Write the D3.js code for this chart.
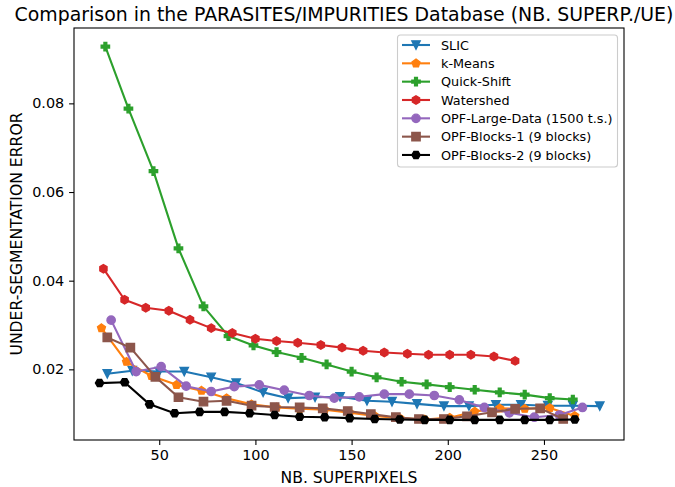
<!DOCTYPE html>
<html>
<head>
<meta charset="utf-8">
<script src="https://cdn.jsdelivr.net/npm/d3@7"></script>
<style>
    body { margin: 0; background: #fff; }
    text { font-family: "DejaVu Sans", sans-serif; fill: #000; }
</style>
</head>
<body>
<div id="d3-container"></div>
<script>
const names = ["SLIC", "k-Means", "Quick-Shift", "Watershed", "OPF-Large-Data (1500 t.s.)", "OPF-Blocks-1 (9 blocks)", "OPF-Blocks-2 (9 blocks)"]
const colors = ["#1f77b4", "#ff7f0e", "#2ca02c", "#d62728", "#9467bd", "#8c564b", "#000000"]
const markers = ["v", "p", "P", "h", "o", "s", "H"]

const slicX = [23, 36, 50, 63, 77, 90, 104, 117, 131, 144, 158, 171, 184, 198, 211, 225, 238, 252, 265, 279]
const slicY = [0.0190, 0.0197, 0.0195, 0.0195, 0.0182, 0.0169, 0.0148, 0.0135, 0.0137, 0.0138, 0.0129, 0.0127, 0.0122, 0.0117, 0.0117, 0.0120, 0.0120, 0.0118, 0.0118, 0.0117]
const kmeansX = [20, 33, 46, 59, 72, 85, 98, 111, 123, 136, 149, 162, 175, 188, 201, 214, 227, 240, 253, 266]
const kmeansY = [0.0293, 0.0217, 0.0185, 0.0165, 0.0152, 0.0135, 0.0121, 0.0114, 0.0111, 0.0109, 0.0102, 0.0095, 0.0090, 0.0087, 0.0091, 0.0105, 0.0112, 0.0111, 0.0113, 0.0095]
const quickX = [22, 34, 47, 60, 73, 86, 99, 111, 124, 137, 150, 163, 176, 189, 201, 214, 227, 240, 253, 265]
const quickY = [0.0928, 0.0788, 0.0647, 0.0473, 0.0342, 0.0275, 0.0254, 0.0239, 0.0226, 0.0211, 0.0195, 0.0182, 0.0172, 0.0166, 0.0160, 0.0154, 0.0148, 0.0143, 0.0135, 0.0132]
const waterX = [21, 32, 43, 55, 66, 77, 88, 100, 111, 122, 134, 145, 156, 167, 179, 190, 201, 212, 224, 235]
const waterY = [0.0427, 0.0357, 0.0339, 0.0332, 0.0312, 0.0293, 0.0282, 0.0269, 0.0264, 0.0260, 0.0255, 0.0249, 0.0242, 0.0238, 0.0235, 0.0233, 0.0233, 0.0233, 0.0229, 0.0219]
const opfLargeX = [25, 38, 51, 64, 77, 89, 102, 115, 128, 141, 154, 167, 180, 193, 206, 219, 232, 245, 258, 270]
const opfLargeY = [0.0311, 0.0195, 0.0206, 0.0162, 0.0150, 0.0161, 0.0165, 0.0153, 0.0141, 0.0135, 0.0138, 0.0144, 0.0144, 0.0141, 0.0131, 0.0114, 0.0102, 0.0092, 0.0097, 0.0114]
const blocks1X = [23, 35, 48, 60, 73, 85, 98, 110, 123, 135, 148, 160, 173, 185, 198, 210, 223, 235, 248, 260]
const blocks1Y = [0.0272, 0.0249, 0.0183, 0.0137, 0.0127, 0.0129, 0.0118, 0.0115, 0.0114, 0.0112, 0.0106, 0.0099, 0.0092, 0.0088, 0.0088, 0.0094, 0.0103, 0.0111, 0.0112, 0.0088]
const blocks2X = [19, 32, 45, 58, 71, 84, 97, 110, 123, 136, 149, 162, 175, 188, 201, 214, 227, 240, 253, 266]
const blocks2Y = [0.0169, 0.0171, 0.0121, 0.0101, 0.0104, 0.0104, 0.0101, 0.0097, 0.0093, 0.0092, 0.0090, 0.0088, 0.0087, 0.0086, 0.0086, 0.0086, 0.0086, 0.0086, 0.0086, 0.0087]

const xTicks = [50, 100, 150, 200, 250]
const yTicks = [0.02, 0.04, 0.06, 0.08]

const allX = [slicX, kmeansX, quickX, waterX, opfLargeX, blocks1X, blocks2X]
const allY = [slicY, kmeansY, quickY, waterY, opfLargeY, blocks1Y, blocks2Y]

const series = names.map((name, k) => ({
    name: name,
    color: colors[k],
    marker: markers[k],
    points: allX[k].map((x, i) => [x, allY[k][i]])
}))

// svg boundaries
const w = 675
const h = 487
const plotL = 74, plotR = 624, plotT = 28, plotB = 440

const xScale = d3.scaleLinear().domain([5.7, 291.6]).range([plotL, plotR])
const yScale = d3.scaleLinear().domain([0.00406, 0.0970]).range([plotB, plotT])

// marker shapes, ms = marker size in px
const ms = 8.3
const poly = (n, r, rot) => {
    const pts = []
    for (let i = 0; i < n; i++) {
        const a = rot + i * 2 * Math.PI / n
        pts.push([r * Math.sin(a), -r * Math.cos(a)])
    }
    return "M" + pts.map(p => p[0].toFixed(2) + "," + p[1].toFixed(2)).join("L") + "Z"
}
const markerPath = (m) => {
    const r = ms / 2
    if (m === "o") return d3.symbol(d3.symbolCircle, Math.PI * r * r)()
    if (m === "v") return "M0," + r + "L" + (-r) + "," + (-r) + "L" + r + "," + (-r) + "Z"
    if (m === "s") return "M" + (-r) + "," + (-r) + "h" + ms + "v" + ms + "h" + (-ms) + "Z"
    if (m === "p") return poly(5, r, 0)
    if (m === "h") return poly(6, r, 0)
    if (m === "H") return poly(6, r, Math.PI / 6)
    if (m === "P") {
        const u = ms / 6
        const pts = [[-1, -3], [1, -3], [1, -1], [3, -1], [3, 1], [1, 1], [1, 3], [-1, 3], [-1, 1], [-3, 1], [-3, -1], [-1, -1]]
        return "M" + pts.map(p => (p[0] * u) + "," + (p[1] * u)).join("L") + "Z"
    }
}

const svg = d3.select('#d3-container')
    .append('svg')
    .attr('width', w)
    .attr('height', h)

svg.append('rect').attr('width', w).attr('height', h).attr('fill', '#fff')

const line = d3.line()
    .x(d => xScale(d[0]))
    .y(d => yScale(d[1]))

const plot = svg.append('g')

series.forEach(s => {
    const g = plot.append('g')
    g.append('path')
        .attr('d', line(s.points))
        .attr('fill', 'none')
        .attr('stroke', s.color)
        .attr('stroke-width', 2.1)
        .attr('stroke-linejoin', 'round')
    g.selectAll('path.mk')
        .data(s.points)
        .enter()
        .append('path')
        .attr('class', 'mk')
        .attr('d', markerPath(s.marker))
        .attr('transform', d => "translate(" + xScale(d[0]) + "," + yScale(d[1]) + ")")
        .attr('fill', s.color)
        .attr('stroke', s.color)
        .attr('stroke-width', 1.4)
        .attr('stroke-linejoin', 'miter')
})

// axes
const xAxis = d3.axisBottom(xScale).tickValues(xTicks).tickSize(4.9).tickPadding(4.9)
const yAxis = d3.axisLeft(yScale).tickValues(yTicks).tickSize(4.9).tickPadding(4.9).tickFormat(d3.format(".2f"))

const gx = svg.append('g')
    .attr("transform", "translate(0," + plotB + ")")
    .call(xAxis)
const gy = svg.append('g')
    .attr("transform", "translate(" + plotL + ",0)")
    .call(yAxis)

;[gx, gy].forEach(g => {
    g.select('.domain').remove()
    g.selectAll('line').attr('stroke', '#000').attr('stroke-width', 1.1)
    g.selectAll('text').style('font-size', '14.4px').attr('fill', '#000')
})

svg.append('rect')
    .attr('x', plotL)
    .attr('y', plotT)
    .attr('width', plotR - plotL)
    .attr('height', plotB - plotT)
    .attr('fill', 'none')
    .attr('stroke', '#000')
    .attr('stroke-width', 1.1)

// titles
svg.append('text')
    .attr('x', 344)
    .attr('y', 21)
    .attr('text-anchor', 'middle')
    .style('font-size', '18.9px')
    .text("Comparison in the PARASITES/IMPURITIES Database (NB. SUPERP./UE)")

svg.append('text')
    .attr('x', (plotL + plotR) / 2)
    .attr('y', 483)
    .attr('text-anchor', 'middle')
    .style('font-size', '15.6px')
    .text("NB. SUPERPIXELS")

svg.append('text')
    .attr('transform', "translate(22," + (plotT + plotB) / 2 + ") rotate(-90)")
    .attr('text-anchor', 'middle')
    .style('font-size', '15.6px')
    .text("UNDER-SEGMENTATION ERROR")

// legend
const legend = svg.append('g')
legend.append('rect')
    .attr('x', 397.5)
    .attr('y', 35)
    .attr('width', 220)
    .attr('height', 132)
    .attr('rx', 3)
    .attr('fill', '#fff')
    .attr('fill-opacity', 0.8)
    .attr('stroke', '#cccccc')
    .attr('stroke-width', 1.1)

const rows = legend.selectAll('g.row')
    .data(series)
    .enter()
    .append('g')
    .attr('class', 'row')
    .attr('transform', (d, i) => "translate(0," + (45 + i * 18.33) + ")")

rows.append('line')
    .attr('x1', 402)
    .attr('x2', 430)
    .attr('stroke', d => d.color)
    .attr('stroke-width', 2.1)
rows.append('path')
    .attr('d', d => markerPath(d.marker))
    .attr('transform', "translate(416,0)")
    .attr('fill', d => d.color)
    .attr('stroke', d => d.color)
    .attr('stroke-width', 1.4)
rows.append('text')
    .attr('x', 441)
    .attr('y', 4.6)
    .style('font-size', '12.8px')
    .text(d => d.name)
</script>
</body>
</html>
